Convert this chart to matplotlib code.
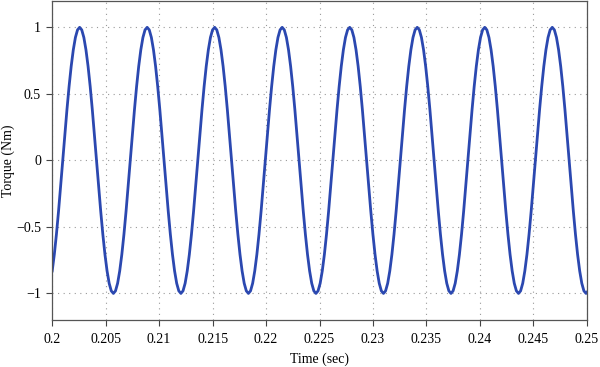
import numpy as np
import matplotlib
matplotlib.use("Agg")
import matplotlib.pyplot as plt
from matplotlib.ticker import FuncFormatter

# Scope trace: torque samples, one row per cycle (~32 samples/cycle)
start_time = 0.2          # s
sample_time = 0.00019734  # s
torque = [
    -0.831, -0.707, -0.556, -0.383, -0.195, 0.0, 0.195, 0.383, 0.556, 0.707, 0.831, 0.924, 0.981, 1.0, 0.981, 0.924,
    0.831, 0.707, 0.556, 0.383, 0.195, 0.0, -0.195, -0.383, -0.556, -0.707, -0.831, -0.924, -0.981, -1.0, -0.981, -0.924,
    -0.831, -0.707, -0.556, -0.383, -0.195, 0.0, 0.195, 0.383, 0.556, 0.707, 0.831, 0.924, 0.981, 1.0, 0.981, 0.924,
    0.831, 0.707, 0.556, 0.383, 0.195, 0.0, -0.195, -0.383, -0.556, -0.707, -0.831, -0.924, -0.981, -1.0, -0.981, -0.924,
    -0.831, -0.707, -0.556, -0.383, -0.195, 0.0, 0.195, 0.383, 0.556, 0.707, 0.831, 0.924, 0.981, 1.0, 0.981, 0.924,
    0.831, 0.707, 0.556, 0.383, 0.195, 0.0, -0.195, -0.383, -0.556, -0.707, -0.831, -0.924, -0.981, -1.0, -0.981, -0.924,
    -0.831, -0.707, -0.556, -0.383, -0.195, 0.0, 0.195, 0.383, 0.556, 0.707, 0.831, 0.924, 0.981, 1.0, 0.981, 0.924,
    0.831, 0.707, 0.556, 0.383, 0.195, 0.0, -0.195, -0.383, -0.556, -0.707, -0.831, -0.924, -0.981, -1.0, -0.981, -0.924,
    -0.831, -0.707, -0.556, -0.383, -0.195, 0.0, 0.195, 0.383, 0.556, 0.707, 0.831, 0.924, 0.981, 1.0, 0.981, 0.924,
    0.831, 0.707, 0.556, 0.383, 0.195, 0.0, -0.195, -0.383, -0.556, -0.707, -0.831, -0.924, -0.981, -1.0, -0.981, -0.924,
    -0.831, -0.707, -0.556, -0.383, -0.195, 0.0, 0.195, 0.383, 0.556, 0.707, 0.831, 0.924, 0.981, 1.0, 0.981, 0.924,
    0.831, 0.707, 0.556, 0.383, 0.195, 0.0, -0.195, -0.383, -0.556, -0.707, -0.831, -0.924, -0.981, -1.0, -0.981, -0.924,
    -0.831, -0.707, -0.556, -0.383, -0.195, 0.0, 0.195, 0.383, 0.556, 0.707, 0.831, 0.924, 0.981, 1.0, 0.981, 0.924,
    0.831, 0.707, 0.556, 0.383, 0.195, 0.0, -0.195, -0.383, -0.556, -0.707, -0.831, -0.924, -0.981, -1.0, -0.981, -0.924,
    -0.831, -0.707, -0.556, -0.383, -0.195, 0.0, 0.195, 0.383, 0.556, 0.707, 0.831, 0.924, 0.981, 1.0, 0.981, 0.924,
    0.831, 0.707, 0.556, 0.383, 0.195, 0.0, -0.195, -0.383, -0.556, -0.707, -0.831, -0.924, -0.981, -1.0, -0.981, -0.924,
]

x_ticks = [0.2, 0.205, 0.21, 0.215, 0.22, 0.225, 0.23, 0.235, 0.24, 0.245, 0.25]
y_ticks = [-1, -0.5, 0, 0.5, 1]

plt.rcParams["font.family"] = ["Liberation Serif", "DejaVu Serif"]
plt.rcParams["axes.unicode_minus"] = True

t = start_time + sample_time * np.arange(len(torque))

fig = plt.figure(figsize=(6.0, 3.67), dpi=100)
ax = fig.add_axes([0.087, 0.128, 0.891, 0.870])

ax.plot(t, torque, color="#2b48b0", linewidth=2.0)

ax.set_xlim(0.2, 0.25)
ax.set_ylim(-1.2, 1.2)
ax.set_xticks(x_ticks)
ax.set_yticks(y_ticks)
ax.xaxis.set_major_formatter(FuncFormatter(lambda v, p: f"{v:g}"))
ax.yaxis.set_major_formatter(FuncFormatter(lambda v, p: f"{v:g}".replace("-", "\u2212")))
ax.tick_params(direction="out", length=4, width=0.8, color="#444444", labelsize=10)
ax.tick_params(axis="x", pad=5)
ax.tick_params(axis="y", pad=4)
ax.grid(True, color="#999999", linestyle=(0, (1, 4)), linewidth=0.8)
for s in ax.spines.values():
    s.set_color("#555555")
    s.set_linewidth(0.9)

ax.set_xlabel("Time (sec)", fontsize=10, labelpad=5)
ax.set_ylabel("Torque (Nm)", fontsize=10, labelpad=1)

fig.savefig("out.png", dpi=100)
